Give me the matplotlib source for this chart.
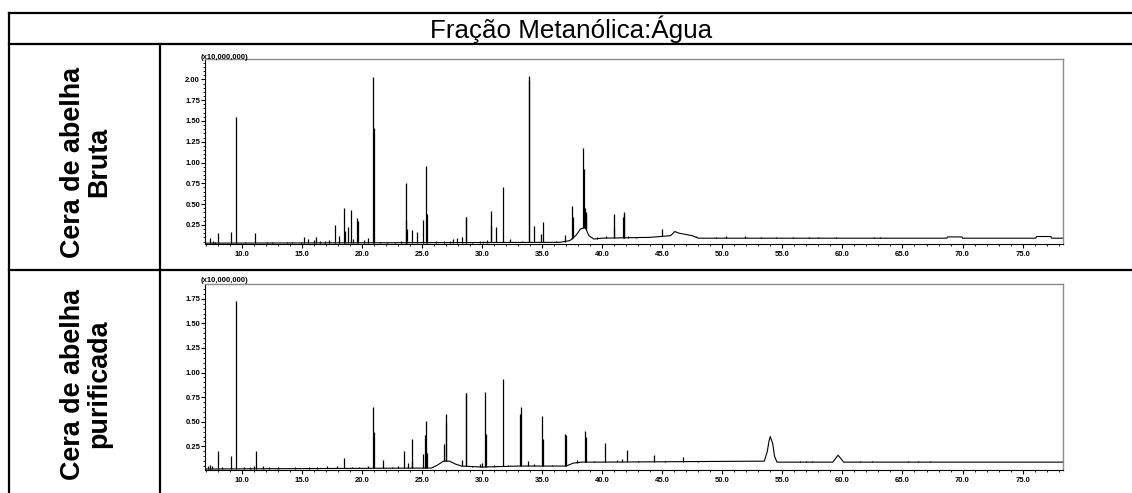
import numpy as np
import matplotlib.pyplot as plt

W, H = 1132, 493

title = "Fração Metanólica:Água"
row_labels = ["Cera de abelha\nBruta", "Cera de abelha\npurificada"]
scale_label = "(x10,000,000)"

x_ticks = [10.0, 15.0, 20.0, 25.0, 30.0, 35.0, 40.0, 45.0, 50.0, 55.0, 60.0, 65.0, 70.0, 75.0]
bruta_yticks = [0.25, 0.50, 0.75, 1.00, 1.25, 1.50, 1.75, 2.00]
pur_yticks = [0.25, 0.50, 0.75, 1.00, 1.25, 1.50, 1.75]

# crude wax: spike retention times (min) and heights (x10^7)
bruta_peak_t = [7.35, 8.05, 9.15, 9.52, 11.1, 15.15, 16.2, 17.8, 18.5, 18.62,
                18.85, 19.06, 19.6, 19.72, 20.55, 20.93, 20.99, 23.68, 23.72, 23.78,
                24.14, 24.6, 25.11, 25.38, 25.43, 26.2, 27.9, 28.3, 28.66, 28.71,
                30.72, 30.77, 31.2, 31.76, 32.35, 33.9, 33.95, 34.3, 34.95, 35.05,
                36.9, 37.5, 37.55, 38.45, 38.5, 38.55, 38.62, 38.7, 40.95, 41.0,
                41.75, 41.8, 41.85, 42.15, 42.8, 44.95, 50.3, 51.9, 55.9, 58.0,
                7.6, 7.8, 10.3, 12.1, 12.5, 13.8, 14.2, 14.9, 15.5, 16.0,
                16.5, 16.9, 17.3, 18.1, 19.3, 20.2, 21.5, 22.1, 22.8, 23.3,
                26.8, 27.3, 27.6, 29.2, 29.8, 30.1, 30.4, 32.8, 33.3, 35.6,
                36.2, 39.6, 40.3, 43.4, 44.2, 47.8, 49.5, 53.2, 54.5, 57.2,
                59.5, 62.6, 63.1]
bruta_peak_h = [0.09, 0.15, 0.17, 1.55, 0.15, 0.11, 0.11, 0.25, 0.45, 0.18,
                0.22, 0.43, 0.33, 0.30, 0.09, 2.03, 1.42, 0.31, 0.75, 0.20,
                0.19, 0.17, 0.31, 0.96, 0.38, 0.06, 0.09, 0.10, 0.35, 0.34,
                0.42, 0.25, 0.23, 0.70, 0.08, 2.04, 1.99, 0.24, 0.14, 0.28,
                0.13, 0.48, 0.35, 1.18, 0.92, 0.45, 0.40, 0.38, 0.38, 0.23,
                0.35, 0.40, 0.38, 0.12, 0.10, 0.20, 0.12, 0.12, 0.11, 0.10,
                0.06, 0.05, 0.05, 0.04, 0.04, 0.05, 0.04, 0.05, 0.08, 0.07,
                0.06, 0.06, 0.07, 0.12, 0.08, 0.07, 0.05, 0.05, 0.05, 0.06,
                0.06, 0.06, 0.08, 0.05, 0.06, 0.06, 0.07, 0.05, 0.06, 0.05,
                0.06, 0.10, 0.12, 0.11, 0.11, 0.12, 0.11, 0.10, 0.10, 0.10,
                0.10, 0.10, 0.10]
bruta_base_t = [6.95, 36.5, 37.3, 37.8, 38.2, 38.6, 38.9, 39.3, 40.0, 44.0,
                45.7, 46.05, 46.4, 47.5, 48.0, 68.7, 68.75, 69.95, 70.0,
                76.1, 76.15, 77.35, 77.4, 78.36]
bruta_base_v = [0.03, 0.04, 0.06, 0.12, 0.20, 0.22, 0.12, 0.08, 0.09, 0.10,
                0.12, 0.17, 0.15, 0.12, 0.09, 0.09, 0.105, 0.105, 0.09,
                0.09, 0.11, 0.11, 0.09, 0.09]

# purified wax
pur_peak_t = [7.35, 8.05, 9.15, 9.52, 11.0, 11.17, 11.8, 18.5, 20.93, 20.98,
              21.75, 23.53, 23.85, 24.14, 24.2, 25.1, 25.28, 25.35, 25.42, 26.85,
              26.97, 27.02, 28.3, 28.66, 28.71, 30.0, 30.25, 30.3, 31.72, 32.6,
              33.2, 33.25, 33.85, 35.0, 35.05, 36.94, 36.99, 38.6, 38.65, 40.25,
              41.67, 42.08, 44.3, 46.7, 49.5, 52.8, 57.5,
              7.2, 7.5, 8.4, 10.2, 10.7, 12.3, 13.0, 14.4, 15.6, 16.3,
              17.1, 17.9, 19.2, 19.8, 20.5, 22.5, 23.0, 29.2, 29.8, 31.0,
              32.2, 34.3, 35.8, 36.3, 37.9, 39.3, 41.2, 43.0, 45.2, 48.0,
              51.0, 52.3, 56.5, 57.0, 61.5, 62.5, 65.5, 66.3, 67.3]
pur_peak_h = [0.06, 0.20, 0.15, 1.73, 0.05, 0.20, 0.05, 0.13, 0.65, 0.40,
              0.11, 0.20, 0.08, 0.33, 0.10, 0.17, 0.37, 0.51, 0.18, 0.27,
              0.50, 0.58, 0.11, 0.79, 0.79, 0.08, 0.80, 0.38, 0.93, 0.05,
              0.58, 0.65, 0.10, 0.56, 0.32, 0.38, 0.37, 0.41, 0.35, 0.28,
              0.12, 0.21, 0.16, 0.14, 0.10, 0.10, 0.10,
              0.05, 0.05, 0.04, 0.04, 0.04, 0.04, 0.04, 0.04, 0.04, 0.04,
              0.05, 0.05, 0.04, 0.04, 0.05, 0.04, 0.05, 0.05, 0.07, 0.06,
              0.06, 0.07, 0.06, 0.05, 0.11, 0.10, 0.11, 0.10, 0.10, 0.10,
              0.10, 0.10, 0.10, 0.10, 0.10, 0.10, 0.10, 0.10, 0.10]
pur_base_t = [6.95, 25.8, 26.3, 26.8, 27.3, 27.8, 28.3, 30.0, 33.0, 37.0,
              37.6, 38.3, 40.0, 53.5, 53.75, 53.9, 54.0, 54.05, 54.2, 54.35,
              54.55, 59.2, 59.45, 59.63, 59.85, 60.1, 78.36]
pur_base_v = [0.02, 0.03, 0.06, 0.10, 0.10, 0.07, 0.05, 0.04, 0.05, 0.05,
              0.08, 0.09, 0.09, 0.10, 0.20, 0.31, 0.35, 0.33, 0.28, 0.15,
              0.09, 0.09, 0.13, 0.16, 0.13, 0.09, 0.09]


def chromatogram(ax, peak_t, peak_h, base_t, base_v, ylim, yticks, label_dy):
    ax.plot(base_t, base_v, color='black', lw=0.8)
    foot = np.interp(peak_t, base_t, base_v)
    ax.vlines(peak_t, foot, peak_h, color='black', lw=0.9)
    ax.set_xlim(6.95, 78.36)
    ax.set_ylim(*ylim)
    ax.set_xticks(x_ticks, ['%.1f' % t for t in x_ticks], fontsize=5.5, fontweight='bold')
    ax.set_yticks(yticks, ['%.2f' % v for v in yticks], fontsize=5.5, fontweight='bold')
    ax.set_xticks(np.arange(7, 79, 1.0), minor=True)
    ax.set_yticks(np.arange(0.05, ylim[1], 0.05), minor=True)
    ax.tick_params(which='major', direction='out', length=3, width=0.8)
    ax.tick_params(which='minor', direction='out', length=1.5, width=0.6)
    ax.tick_params(axis='x', pad=2)
    ax.tick_params(axis='y', pad=0.5)
    for side in ['top', 'right']:
        ax.spines[side].set_color('#8c8c8c')
        ax.spines[side].set_linewidth(1.0)
    for side in ['left', 'bottom']:
        ax.spines[side].set_linewidth(0.8)
    ax.text(-0.005, 1.0 + label_dy, scale_label, transform=ax.transAxes,
            fontsize=5.5, fontweight='bold', ha='left', va='center')


plt.rcParams['font.family'] = ['Liberation Sans', 'DejaVu Sans']
fig = plt.figure(figsize=(W / 100, H / 100), dpi=100)

# table frame in pixel coordinates
frame = fig.add_axes([0, 0, 1, 1])
frame.set_xlim(0, W)
frame.set_ylim(H, 0)
frame.axis('off')
lw = 1.6
frame.plot([9, W], [13, 13], color='black', lw=lw)
frame.plot([9, W], [44, 44], color='black', lw=lw)
frame.plot([9, W], [270, 270], color='black', lw=lw)
frame.plot([9, 9], [13, H], color='black', lw=lw)
frame.plot([160, 160], [44, H], color='black', lw=lw)
frame.text(571, 29, title, fontsize=18.7, ha='center', va='center')
frame.text(86, 162, row_labels[0], fontsize=19.4, fontweight='bold', rotation=90,
           ha='center', va='center', linespacing=1.0, multialignment='center')
frame.text(86, 384, row_labels[1], fontsize=19.4, fontweight='bold', rotation=90,
           ha='center', va='center', linespacing=1.0, multialignment='center')

ax1 = fig.add_axes([205 / W, (H - 244) / H, 858 / W, 185 / H])
chromatogram(ax1, bruta_peak_t, bruta_peak_h, bruta_base_t, bruta_base_v,
             (0.02, 2.245), bruta_yticks, 2 / 185)

ax2 = fig.add_axes([205 / W, (H - 470) / H, 858 / W, 186 / H])
chromatogram(ax2, pur_peak_t, pur_peak_h, pur_base_t, pur_base_v,
             (0.01, 1.90), pur_yticks, 4 / 186)

fig.savefig('out.png', dpi=100)
